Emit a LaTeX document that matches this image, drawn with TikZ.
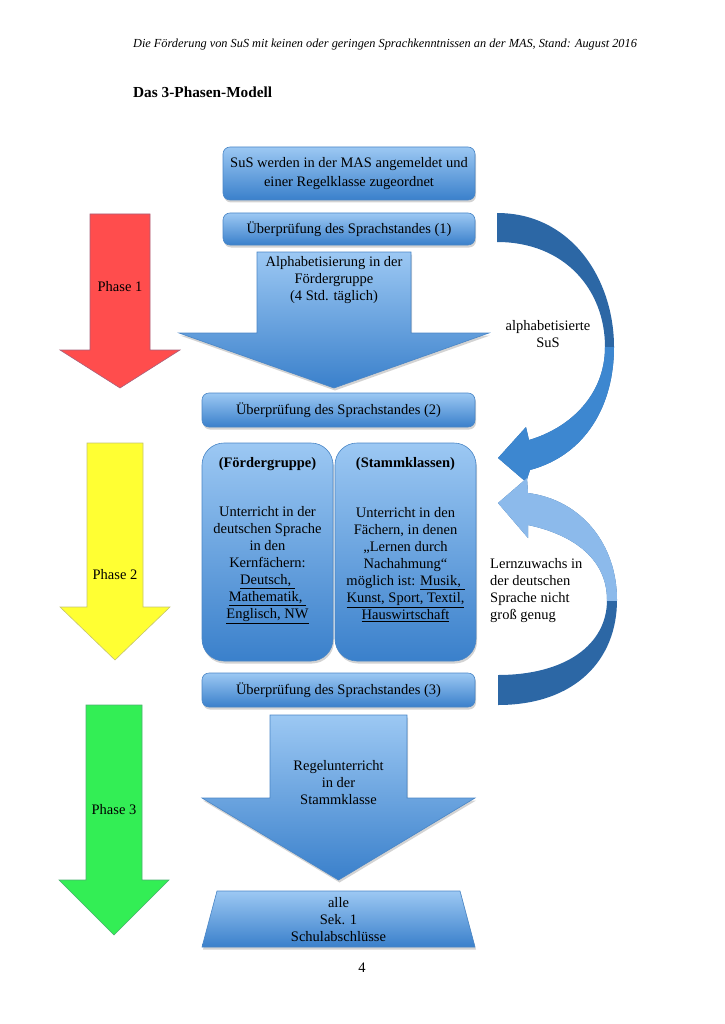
\documentclass[tikz,border=0pt]{standalone}
\usepackage{fontspec}
\setmainfont{Liberation Serif}
\usetikzlibrary{shadows}

\definecolor{kastenhell}{HTML}{9CC8F3}
\definecolor{kastendunkel}{HTML}{3A80CB}
\definecolor{kastenrand}{HTML}{4A86C6}
\definecolor{bogendunkel}{HTML}{2C67A5}
\definecolor{bogenmittel}{HTML}{3D87D0}
\definecolor{bogenhell}{HTML}{8CBAEB}
\definecolor{phaserot}{HTML}{FF4D4D}
\definecolor{phaserotrand}{HTML}{A8607A}
\definecolor{phasegelb}{HTML}{FFFF33}
\definecolor{phasegelbrand}{HTML}{C4C470}
\definecolor{phasegruen}{HTML}{33EE55}
\definecolor{phasegruenrand}{HTML}{4CB070}

\newcommand{\blockpfeil}[7][]{\path[#1] ({#2-#3},#4) -- ({#2+#3},#4) -- ({#2+#3},#5) -- ({#2+#6},#5) -- (#2,#7) -- ({#2-#6},#5) -- ({#2-#3},#5) -- cycle;}
\newcommand{\bogenoben}{(497,213) .. controls (572,213) and (614,280) .. (614,347) .. controls (614,405) and (586,455) .. (530,470) -- (526,482) -- (498,458) -- (526,427) -- (529,440) .. controls (570,428) and (605,395) .. (605,347) .. controls (605,290) and (565,242) .. (497,242) -- cycle}
\newcommand{\bogenunten}{(498,705) .. controls (575,705) and (617,660) .. (617,600) .. controls (617,545) and (582,500) .. (528,493) -- (527,478) -- (498,503) -- (528,538) -- (528,525) .. controls (575,535) and (607,560) .. (607,600) .. controls (607,645) and (565,675) .. (498,675) -- cycle}

\begin{document}
\begin{tikzpicture}[x=1pt,y=-1pt,
    every node/.style={font=\fontsize{14.5}{17}\selectfont, inner sep=0pt, align=center},
    schatten/.style={drop shadow={shadow xshift=1pt, shadow yshift=-2.5pt, opacity=0.35}},
    kasten/.style={draw=kastenrand, line width=0.6pt, rounded corners=7pt, top color=kastenhell, bottom color=kastendunkel, schatten},
    grosskasten/.style={kasten, rounded corners=22pt},
    blaupfeil/.style={draw=kastenrand, line width=0.6pt, top color=kastenhell, bottom color=kastendunkel, schatten}]
    \useasboundingbox (0,0) rectangle (724,1024);
    \node (kopfzeile) at (385,45) {\fontsize{12.3}{15}\selectfont\itshape Die Förderung von SuS mit keinen oder geringen Sprachkenntnissen an der MAS, Stand: August 2016};
    \node [anchor=west] (titel) at (133,92) {\fontsize{15.3}{17}\selectfont\bfseries Das 3-Phasen-Modell};
    \blockpfeil[fill=phaserot, draw=phaserotrand, line width=0.6pt]{120}{30}{214}{350}{60}{388}
    \blockpfeil[fill=phasegelb, draw=phasegelbrand, line width=0.6pt]{115}{28}{443}{607}{55}{660}
    \blockpfeil[fill=phasegruen, draw=phasegruenrand, line width=0.6pt]{114}{28}{705}{880}{55}{935}
    \node (phaseeins) at (120,287) {Phase 1};
    \node (phasezwei) at (115,575) {Phase 2};
    \node (phasedrei) at (114,810) {Phase 3};
    \blockpfeil[blaupfeil]{334}{77}{252}{333}{155}{388}
    \blockpfeil[blaupfeil]{338.5}{68.5}{715}{798}{136.5}{880}
    \path [blaupfeil] (217,891) -- (460,891) -- (475,947) -- (202,947) -- cycle;
    \node [kasten, minimum width=252pt, minimum height=53pt, font=\fontsize{14.5}{19}\selectfont] (anmeldung) at (349,173.5) {SuS werden in der MAS angemeldet und\\einer Regelklasse zugeordnet};
    \node [kasten, minimum width=252pt, minimum height=32pt] (pruefungeins) at (349,229) {Überprüfung des Sprachstandes (1)};
    \node [kasten, minimum width=273pt, minimum height=34pt] (pruefungzwei) at (338.5,410) {Überprüfung des Sprachstandes (2)};
    \node [grosskasten, minimum width=131pt, minimum height=218pt] (foerdergruppe) at (267.5,552) {};
    \node [grosskasten, minimum width=141pt, minimum height=218pt] (stammklassen) at (405.5,552) {};
    \node [kasten, minimum width=273pt, minimum height=34pt] (pruefungdrei) at (338.5,690) {Überprüfung des Sprachstandes (3)};
    \node (alphatext) at (334,280) {Alphabetisierung in der\\Fördergruppe\\(4 Std. täglich)};
    \node (foerderkopf) at (267.5,464) {\bfseries (Fördergruppe)};
    \node (stammkopf) at (405.5,464) {\bfseries (Stammklassen)};
    \node (foerdertext) at (267.5,565) {Unterricht in der\\deutschen Sprache\\in den\\Kernfächern:\\\underline{Deutsch,\ }\\\underline{Mathematik,\ }\\\underline{Englisch, NW}};
    \node (stammtext) at (405.5,565) {Unterricht in den\\Fächern, in denen\\„Lernen durch\\Nachahmung“\\möglich ist: \underline{Musik,\ }\\\underline{Kunst, Sport, Textil,}\\\underline{Hauswirtschaft}};
    \node (regeltext) at (338.5,783) {Regelunterricht\\in der\\Stammklasse};
    \node (abschluss) at (338.5,920) {alle\\Sek. 1\\Schulabschlüsse};
    \fill [bogendunkel] \bogenoben;
    \begin{scope}
    \clip (480,347) rectangle (650,500);
    \fill [bogenmittel] \bogenoben;
    \end{scope}
    \fill [bogendunkel] \bogenunten;
    \begin{scope}
    \clip (480,460) rectangle (650,600);
    \fill [bogenhell] \bogenunten;
    \end{scope}
    \node (alphabetisiert) at (548,334) {alphabetisierte\\SuS};
    \node [anchor=west, align=left] (lernzuwachs) at (490,591) {Lernzuwachs in\\der deutschen\\Sprache nicht\\groß genug};
    \node (seitenzahl) at (362,968) {4};
\end{tikzpicture}
\end{document}
